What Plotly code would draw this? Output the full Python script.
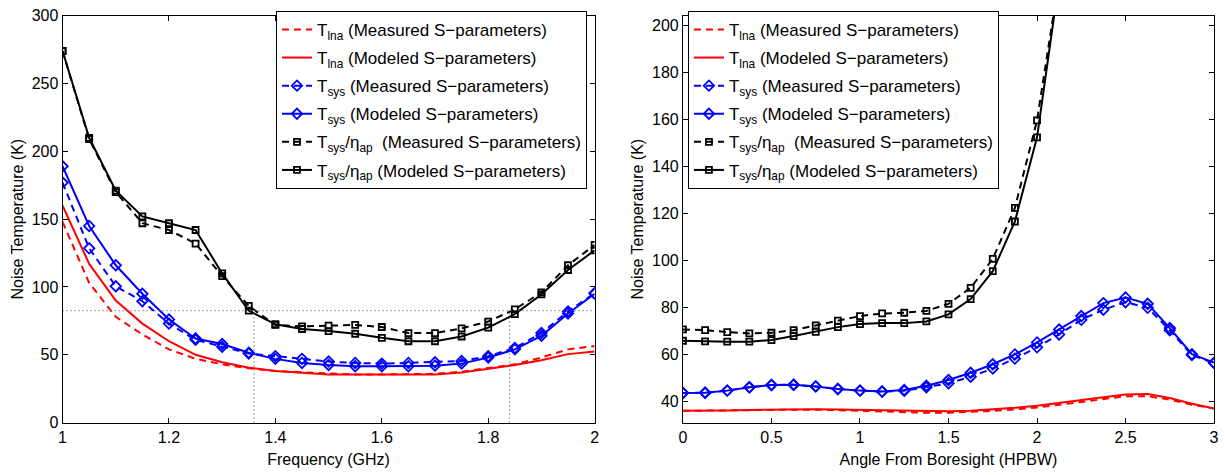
import plotly.graph_objects as go

# ---------------- Left panel data (Frequency, GHz) ----------------
freq = [1.00, 1.05, 1.10, 1.15, 1.20, 1.25, 1.30, 1.35, 1.40, 1.45, 1.50,
        1.55, 1.60, 1.65, 1.70, 1.75, 1.80, 1.85, 1.90, 1.95, 2.00]
tlna_meas_f = [148, 103, 78, 65, 54, 47, 43, 40, 38, 37, 36,
               35.5, 35.5, 35.5, 36, 37.5, 40, 43, 48, 54, 56.5]
tlna_mod_f = [160, 117, 90, 73, 60, 50, 44.5, 40.5, 38, 36.5, 35.5,
              35.5, 35.5, 35.5, 35.5, 37, 39.5, 42.5, 46, 50.5, 52.5]
tsys_meas_f = [177, 128.5, 100.5, 89.5, 73, 61, 56, 51, 49, 47, 45,
               44, 43.5, 44, 44.5, 45.5, 49, 55, 66, 82, 95.5]
tsys_mod_f = [189, 145, 116, 95, 76, 62, 58, 51.5, 47, 44, 42.5,
              41.5, 41.5, 41.5, 42, 43.5, 48, 54, 64, 80.5, 95]
teff_meas_f = [274, 209, 170, 147, 142, 132, 108, 86, 72, 71, 71.5,
               72, 70.5, 66, 66, 69.5, 74.5, 83.5, 96, 116, 131]
teff_mod_f = [274, 210, 171, 152, 147, 142, 110, 82.5, 72.5, 69, 67.5,
              65.5, 62.5, 60, 60, 63.5, 70, 80, 94.5, 112.5, 127]
threshold = 82.5
band_edges = [1.36, 1.84]
left_yticks = [0, 50, 100, 150, 200, 250, 300]
left_xticks = [1, 1.2, 1.4, 1.6, 1.8, 2]
left_xlabels = ["1", "1.2", "1.4", "1.6", "1.8", "2"]

# ---------------- Right panel data (Angle, HPBW) ----------------
angle = [0, 0.125, 0.25, 0.375, 0.5, 0.625, 0.75, 0.875, 1.0, 1.125, 1.25,
         1.375, 1.5, 1.625, 1.75, 1.875, 2.0, 2.125, 2.25, 2.375, 2.5,
         2.625, 2.75, 2.875, 3.0]
tlna_meas_a = [36, 36, 36.2, 36.3, 36.4, 36.5, 36.5, 36.3, 36, 35.7, 35.4,
               35.2, 35.2, 35.5, 36, 36.6, 37.4, 38.6, 39.9, 41.2, 42.2,
               42.2, 40.8, 38.6, 37]
tlna_mod_a = [36, 36, 36.2, 36.4, 36.6, 36.7, 36.7, 36.6, 36.4, 36.2, 36,
              35.8, 35.8, 36, 36.6, 37.3, 38.2, 39.3, 40.5, 41.8, 43,
              43.2, 41.5, 39, 37]
tsys_meas_a = [43.6, 43.7, 44.6, 46, 47, 47.1, 46.4, 45.3, 44.6, 44.2, 44.5,
               46, 47.7, 50.5, 54, 58.2, 63, 68.5, 74.7, 79, 82.2,
               79.8, 70.3, 59.7, 56.3]
tsys_mod_a = [43.6, 43.7, 44.6, 46, 47, 47.1, 46.4, 45.3, 44.6, 44.2, 44.9,
              46.7, 49.1, 52.2, 55.8, 60, 65.1, 70.6, 76.3, 81.8, 84.2,
              81.5, 71.2, 60.1, 56.5]
teff_meas_a = [70.6, 70.3, 69.5, 68.9, 69.2, 70.3, 72.3, 74.4, 76.3, 77.4, 77.7,
               78.5, 81.5, 88.3, 100.6, 122.3, 159.5, 220]
teff_mod_a = [65.8, 65.5, 65.4, 65.4, 66.1, 67.8, 69.6, 71.6, 72.9, 73.3, 73.3,
              74, 77, 83.5, 95.4, 116.5, 152.3, 219]
right_yticks = [40, 60, 80, 100, 120, 140, 160, 180, 200]
right_xticks = [0, 0.5, 1, 1.5, 2, 2.5, 3]
right_xlabels = ["0", "0.5", "1", "1.5", "2", "2.5", "3"]

names = [
    "T<sub>lna</sub> (Measured S\u2212parameters)",
    "T<sub>lna</sub> (Modeled S\u2212parameters)",
    "T<sub>sys</sub> (Measured S\u2212parameters)",
    "T<sub>sys</sub> (Modeled S\u2212parameters)",
    "T<sub>sys</sub>/\u03b7<sub>ap</sub>  (Measured S\u2212parameters)",
    "T<sub>sys</sub>/\u03b7<sub>ap</sub> (Modeled S\u2212parameters)",
]

RED = "#ff0000"
BLUE = "#0000ff"
BLACK = "#000000"
DASH = "7px,5px"
LW = 2

styles = [
    dict(color=RED, dash=DASH, marker=None),
    dict(color=RED, dash="solid", marker=None),
    dict(color=BLUE, dash=DASH, marker="diamond-open"),
    dict(color=BLUE, dash="solid", marker="diamond-open"),
    dict(color=BLACK, dash=DASH, marker="square-open"),
    dict(color=BLACK, dash="solid", marker="square-open"),
]

fig = go.Figure()


def add_series(x, y, st, name, xa, ya, legend, group):
    mode = "lines+markers" if st["marker"] else "lines"
    kw = {}
    if st["marker"]:
        size = 8 if "diamond" in st["marker"] else 6
        kw["marker"] = dict(symbol=st["marker"], size=size, color=st["color"],
                            line=dict(width=1.8, color=st["color"]))
    fig.add_trace(go.Scatter(
        x=x, y=y, mode=mode, name=name,
        line=dict(color=st["color"], width=LW, dash=st["dash"]),
        xaxis=xa, yaxis=ya, legend=legend, legendgroup=group, **kw))


left_series = [tlna_meas_f, tlna_mod_f, tsys_meas_f, tsys_mod_f, teff_meas_f, teff_mod_f]
for i, (ys, st, nm) in enumerate(zip(left_series, styles, names)):
    add_series(freq, ys, st, nm, "x", "y", "legend", "L%d" % i)

right_series = [tlna_meas_a, tlna_mod_a, tsys_meas_a, tsys_mod_a, teff_meas_a, teff_mod_a]
for i, (ys, st, nm) in enumerate(zip(right_series, styles, names)):
    add_series(angle[:len(ys)], ys, st, nm, "x2", "y2", "legend2", "R%d" % i)

# dotted guide lines on left panel
GRAY = "#666666"
fig.add_trace(go.Scatter(x=[freq[0], freq[-1]], y=[threshold, threshold], mode="lines",
                         line=dict(color=GRAY, width=1.3, dash="1px,3px"),
                         showlegend=False, xaxis="x", yaxis="y", hoverinfo="skip"))
for fe in band_edges:
    fig.add_trace(go.Scatter(x=[fe, fe], y=[0, threshold], mode="lines",
                             line=dict(color=GRAY, width=1.3, dash="1px,3px"),
                             showlegend=False, xaxis="x", yaxis="y", hoverinfo="skip"))

FONT = "Liberation Sans, Arial, Helvetica, sans-serif"
axis_common = dict(showline=True, linecolor="black", linewidth=1, mirror="ticks",
                   ticks="inside", ticklen=5, tickcolor="black", showgrid=False,
                   zeroline=False, ticklabeloverflow="allow",
                   tickfont=dict(size=16, color="black", family=FONT))

legend_common = dict(xanchor="left", yanchor="top", bgcolor="white",
                     bordercolor="black", borderwidth=1,
                     font=dict(size=17, family=FONT, color="black"), tracegroupgap=3)

fig.update_layout(
    width=1225, height=475,
    margin=dict(l=0, r=0, t=0, b=0),
    paper_bgcolor="white", plot_bgcolor="white",
    font=dict(family=FONT, size=16, color="black"),
    xaxis=dict(domain=[59 / 1225, 595 / 1225], range=[1, 2], tickvals=left_xticks,
               ticktext=left_xlabels,
               title=dict(text="Frequency (GHz)", font=dict(size=16), standoff=8), anchor="y", **axis_common),
    yaxis=dict(domain=[1 - 430 / 475, 1 - 8 / 475], range=[0, 300.001], tickvals=left_yticks,
               title=dict(text="Noise Temperature (K)", font=dict(size=16), standoff=4), anchor="x", **axis_common),
    xaxis2=dict(domain=[684 / 1225, 1219 / 1225], range=[0, 3], tickvals=right_xticks,
                ticktext=right_xlabels,
                title=dict(text="Angle From Boresight (HPBW)", font=dict(size=16), standoff=8), anchor="y2", **axis_common),
    yaxis2=dict(domain=[1 - 430 / 475, 1 - 8 / 475], range=[31, 204], tickvals=right_yticks,
                title=dict(text="Noise Temperature (K)", font=dict(size=16), standoff=4), anchor="x2", **axis_common),
    legend=dict(x=274 / 1225, y=1 - 3 / 475, **legend_common),
    legend2=dict(x=689 / 1225, y=1 - 3 / 475, **legend_common),
)

fig.write_html("out.html", post_script="document.body.style.margin='0';")
